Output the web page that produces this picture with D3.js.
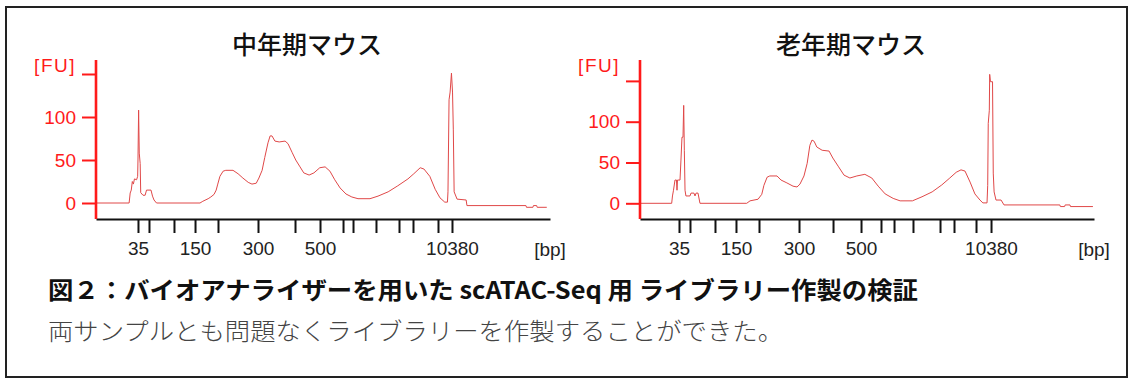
<!DOCTYPE html>
<html>
<head>
<meta charset="utf-8">
<script src="https://cdn.jsdelivr.net/npm/d3@7"></script>
<style>
body { margin: 0; background: #fff; }
svg { display: block; }
</style>
</head>
<body>
<svg id="svg" width="1128" height="378"></svg>
<script>
// Bioanalyzer traces, x in migration time (s), y in FU
const ladderLabels = ["35", "", "", "150", "", "300", "", "500", "", "", "", "", "", "", "10380"];
const midLadderTimes = [47.86, 49.92, 54.6, 58.54, 62.84, 70.33, 77.26, 81.94, 86.25, 88.12, 92.42, 96.73, 99.35, 104.03, 106.65];
const oldLadderTimes = [47.3, 49.36, 54.04, 57.97, 62.28, 69.77, 76.14, 81.38, 85.12, 87.56, 91.11, 96.17, 98.79, 102.91, 105.72];
const fuTicks = [0, 50, 100, 150];
const fuTickLabels = ["0", "50", "100", ""];
const titles = ["中年期マウス", "老年期マウス"];

const midTrace = [
    [40,0],[46.2,0],[46.4,11.6],[46.6,15],[46.8,25],[47.0,22],[47.2,28],[47.6,27],[47.8,31],[47.86,50],
    [47.98,108],[48.1,58],[48.27,46],[48.37,12],[48.8,9],[49.2,9],[49.46,15],[50.3,15],[50.58,8],[50.86,3.5],
    [51.33,0],[59.47,0],[60.0,2],[61.0,5],[61.5,7],[62.1,10],[62.5,15],[62.8,22],[63.2,31],[63.8,37],
    [64.3,38],[65.65,38],[66.6,34],[67.5,29],[68.5,24],[69.2,22],[70.0,23],[70.5,29],[71.1,38],[71.6,53],
    [72.2,70],[72.6,78],[72.95,78],[73.5,72],[74.3,71],[75.4,72],[75.95,69],[76.7,59],[77.4,50],[78.2,42],
    [78.9,35],[79.9,32.5],[80.8,35],[81.9,41],[82.9,42],[83.8,37],[84.7,27],[85.7,17.5],[86.8,10.5],[87.9,7],
    [89.05,5],[91.3,5],[92.8,8],[94.7,13],[96.5,20],[98.4,28],[99.5,34],[100.7,41],[101.4,39.5],[102.5,31],
    [103.5,16],[104.4,6],[105.3,1],[105.8,1],[105.9,13],[106.1,120],[106.3,129],[106.55,151],[106.75,129],[106.9,85],
    [107.05,13],[107.6,4.5],[109.3,3.5],[109.45,-3],[120.5,-3],[120.6,-5],[121.8,-5],[121.9,-3],[122.5,-3],[122.6,-5],
    [124.4,-5]
];

const oldTrace = [
    [40,0],[45.93,0],[46.08,9],[46.27,16],[46.55,28.5],[46.83,28.5],[46.93,16],[47.02,28.5],[47.49,28.5],[47.67,53],
    [47.86,81],[48.05,81],[48.18,120],[48.3,65],[48.43,16],[48.6,9],[49.36,9],[49.55,12.5],[50.1,12.5],[50.3,9],
    [50.5,12.5],[50.86,12.5],[51.23,0],[59.98,0],[60.6,3],[62.1,5],[62.8,11],[63.2,22],[63.8,32],[64.3,33.5],
    [65.65,33.5],[66.4,28.5],[67.5,25],[68.65,21],[69.4,20],[69.95,23.5],[70.7,33.5],[71.3,49],[71.8,71],[72.2,77.5],
    [72.6,76],[73.1,69],[74.1,65],[75.4,64],[76.1,55.5],[77.1,45.5],[78.2,34.5],[79.3,31],[80.6,33.5],[82.1,35.5],
    [83.4,31],[84.6,21],[85.9,11.5],[87.4,6],[88.7,3],[91.0,3],[92.8,8],[94.7,14],[96.5,22.5],[98.0,31],
    [99.2,38],[100.1,41],[100.85,39.5],[101.8,26],[102.7,11.5],[103.65,4],[104.2,0.5],[104.97,0.5],[105.1,22],[105.2,98],
    [105.4,114],[105.47,158],[105.62,149],[106.0,149],[106.14,37],[106.3,14],[106.65,4],[107.6,4],[108.15,-2],[118.6,-2],
    [118.7,-4],[119.5,-4],[119.6,-2],[120.5,-2],[120.6,-4],[124.8,-4]
];

const captionTitle = "図２：バイオアナライザーを用いた scATAC-Seq 用 ライブラリー作製の検証";
const captionText = "両サンプルとも問題なくライブラリーを作製することができた。";

const svg = d3.select("#svg");
const axisFont = "'Liberation Sans', Arial, sans-serif";
const jpFont = "'Noto Sans CJK JP', 'Noto Sans', sans-serif";

// outer frame
svg.append("rect")
    .attr("x", 6).attr("y", 7).attr("width", 1121).attr("height", 370)
    .attr("fill", "none").attr("stroke", "#222").attr("stroke-width", 2);

function drawChart(left, yZero, yHundred, ladder, trace, title)
{
    const axisY = 219;
    const x = d3.scaleLinear().domain([40, 125]).range([left, left + 454]);
    const y = d3.scaleLinear().domain([0, 100]).range([yZero, yHundred]);
    const g = svg.append("g");

    // title
    g.append("text")
        .attr("x", left + 211).attr("y", 43)
        .attr("text-anchor", "middle").attr("dominant-baseline", "central")
        .attr("font-family", jpFont).attr("font-size", 25).attr("font-weight", 500)
        .attr("fill", "#111")
        .text(title);

    // trace
    const line = d3.line().x(d => x(d[0])).y(d => y(d[1]));
    g.append("path")
        .datum(trace)
        .attr("d", line)
        .attr("fill", "none")
        .attr("stroke", "#e04848")
        .attr("stroke-width", 1)
        .attr("stroke-linejoin", "miter");

    // x axis
    const xAxis = g.append("g")
        .attr("transform", `translate(0,${axisY})`)
        .call(d3.axisBottom(x).tickValues(ladder).tickSize(14).tickSizeOuter(0).tickPadding(9)
            .tickFormat((d, i) => ladderLabels[i]));
    xAxis.select(".domain").attr("stroke", "#111").attr("stroke-width", 2);
    xAxis.selectAll(".tick line").attr("stroke", "#111").attr("stroke-width", 2);
    xAxis.selectAll(".tick text")
        .attr("font-family", axisFont).attr("font-size", 19).attr("fill", "#222");

    g.append("text")
        .attr("x", left + 454).attr("y", 256)
        .attr("text-anchor", "middle")
        .attr("font-family", axisFont).attr("font-size", 19).attr("fill", "#222")
        .text("[bp]");

    // y axis
    const yAxis = g.append("g")
        .attr("transform", `translate(${left},0)`)
        .call(d3.axisLeft(y).tickValues(fuTicks).tickSize(14).tickPadding(6)
            .tickFormat((d, i) => fuTickLabels[i]));
    yAxis.select(".domain").remove();
    yAxis.selectAll(".tick line").attr("stroke", "#ff1a1a").attr("stroke-width", 2);
    yAxis.selectAll(".tick text")
        .attr("font-family", axisFont).attr("font-size", 19).attr("fill", "#ff1a1a");
    g.append("line")
        .attr("x1", left).attr("x2", left)
        .attr("y1", 60).attr("y2", axisY)
        .attr("stroke", "#ff1a1a").attr("stroke-width", 2.6);

    g.append("text")
        .attr("x", left - 20).attr("y", 65)
        .attr("text-anchor", "end").attr("dominant-baseline", "central")
        .attr("font-family", axisFont).attr("font-size", 19).attr("fill", "#ff1a1a")
        .attr("letter-spacing", 1.5)
        .text("[FU]");
}

drawChart(96, 203, 117, midLadderTimes, midTrace, titles[0]);
drawChart(640, 203.3, 121.7, oldLadderTimes, oldTrace, titles[1]);

// caption
svg.append("text")
    .attr("x", 48).attr("y", 288)
    .attr("dominant-baseline", "central")
    .attr("font-family", jpFont).attr("font-size", 24).attr("font-weight", 600)
    .attr("fill", "#111")
    .attr("textLength", 870).attr("lengthAdjust", "spacingAndGlyphs")
    .text(captionTitle);

svg.append("text")
    .attr("x", 48).attr("y", 329)
    .attr("dominant-baseline", "central")
    .attr("font-family", jpFont).attr("font-size", 24).attr("font-weight", 300)
    .attr("fill", "#444")
    .attr("textLength", 735).attr("lengthAdjust", "spacingAndGlyphs")
    .text(captionText);
</script>
</body>
</html>
